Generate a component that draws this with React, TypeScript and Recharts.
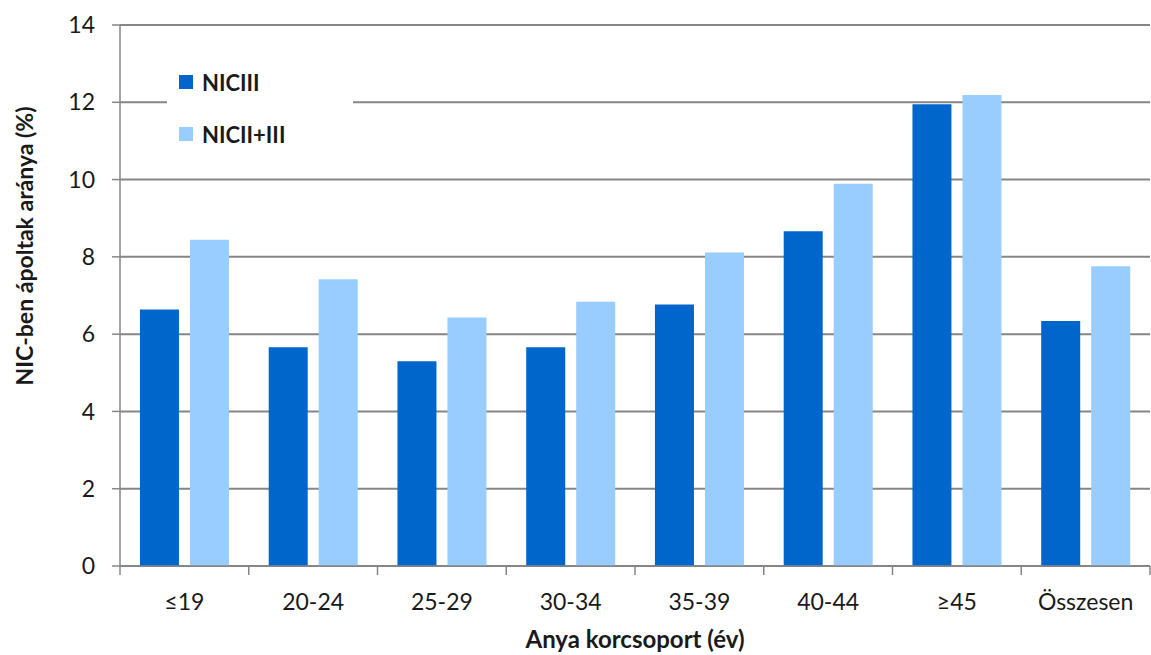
import React from "react";
import { BarChart, Bar, XAxis, YAxis, CartesianGrid } from "recharts";

const categories = ["≤19", "20-24", "25-29", "30-34", "35-39", "40-44", "≥45", "Összesen"];
const niciii = [6.64, 5.66, 5.3, 5.66, 6.77, 8.66, 11.95, 6.34];
const nicii3 = [8.44, 7.42, 6.43, 6.84, 8.11, 9.89, 12.19, 7.76];
const yTicks = [0, 2, 4, 6, 8, 10, 12, 14];
const seriesNames = ["NICIII", "NICII+III"];

const data = categories.map((c, i) => ({ cat: c, [seriesNames[0]]: niciii[i], [seriesNames[1]]: nicii3[i] }));

const FONT = "Lato, 'Noto Sans', sans-serif";
const AXIS = "#868686";
const TXT = "#1a1a1a";
const C1 = "#0066CC";
const C2 = "#99CCFF";

const XTick = (props: any) => {
  const { x, y, payload, index } = props;
  const off = payload.offset || 0;
  return (
    <g>
      <line x1={x - off} y1={y} x2={x - off} y2={y + 9} stroke={AXIS} strokeWidth={1.5} />
      {index === categories.length - 1 ? (
        <line x1={x + off} y1={y} x2={x + off} y2={y + 9} stroke={AXIS} strokeWidth={1.5} />
      ) : null}
      <text x={x} y={y + 44} textAnchor="middle" fontSize={23} fill={TXT} fontFamily={FONT}>
        {payload.value}
      </text>
    </g>
  );
};

export default function App() {
  const colors = [C1, C2];
  return (
    <div style={{ position: "absolute", left: 0, top: 0, width: 1151, height: 655, background: "#fff" }}>
      <BarChart
        width={1151}
        height={655}
        data={data}
        margin={{ top: 25, right: 1, bottom: 0, left: 0 }}
        barCategoryGap="15.5%"
        barGap={11}
      >
        <CartesianGrid vertical={false} stroke={AXIS} strokeWidth={2} />
        <XAxis
          dataKey="cat"
          height={89}
          tickLine={false}
          tickSize={0}
          tickMargin={0}
          axisLine={{ stroke: AXIS, strokeWidth: 1.5 }}
          tick={<XTick />}
          interval={0}
          label={{
            content: (p: any) => {
              const vb = p.viewBox;
              return (
                <text x={vb.x + vb.width / 2} y={vb.y + 82} textAnchor="middle" fontSize={24} fontWeight={700} fill={TXT} fontFamily={FONT}>
                  Anya korcsoport (év)
                </text>
              );
            },
          }}
        />
        <YAxis
          width={120}
          domain={[0, 14]}
          ticks={yTicks}
          interval={0}
          tickSize={8}
          tickMargin={17}
          tickLine={{ stroke: AXIS, strokeWidth: 1.5 }}
          axisLine={{ stroke: AXIS, strokeWidth: 1.5 }}
          tick={{ fontSize: 23, fill: TXT, fontFamily: FONT }}
          label={{
            content: () => (
              <text x={24} y={246} transform="rotate(-90, 24, 246)" textAnchor="middle" dominantBaseline="central" fontSize={23} fontWeight={700} fill={TXT} fontFamily={FONT}>
                NIC-ben ápoltak aránya (%)
              </text>
            ),
          }}
        />
        <Bar dataKey={seriesNames[0]} fill={C1} isAnimationActive={false} />
        <Bar dataKey={seriesNames[1]} fill={C2} isAnimationActive={false} />
      </BarChart>
      <div style={{ position: "absolute", left: 167, top: 60, width: 186, height: 92, background: "#fff", fontFamily: FONT, fontWeight: 700, fontSize: 22, color: TXT }}>
        {seriesNames.map((name, i) => (
          <div key={name} style={{ position: "absolute", left: 12, top: 7 + i * 52, height: 30, display: "flex", alignItems: "center", whiteSpace: "nowrap" }}>
            <span style={{ display: "inline-block", width: 14, height: 14, background: colors[i], marginRight: 9 }} />
            <span>{name}</span>
          </div>
        ))}
      </div>
    </div>
  );
}
